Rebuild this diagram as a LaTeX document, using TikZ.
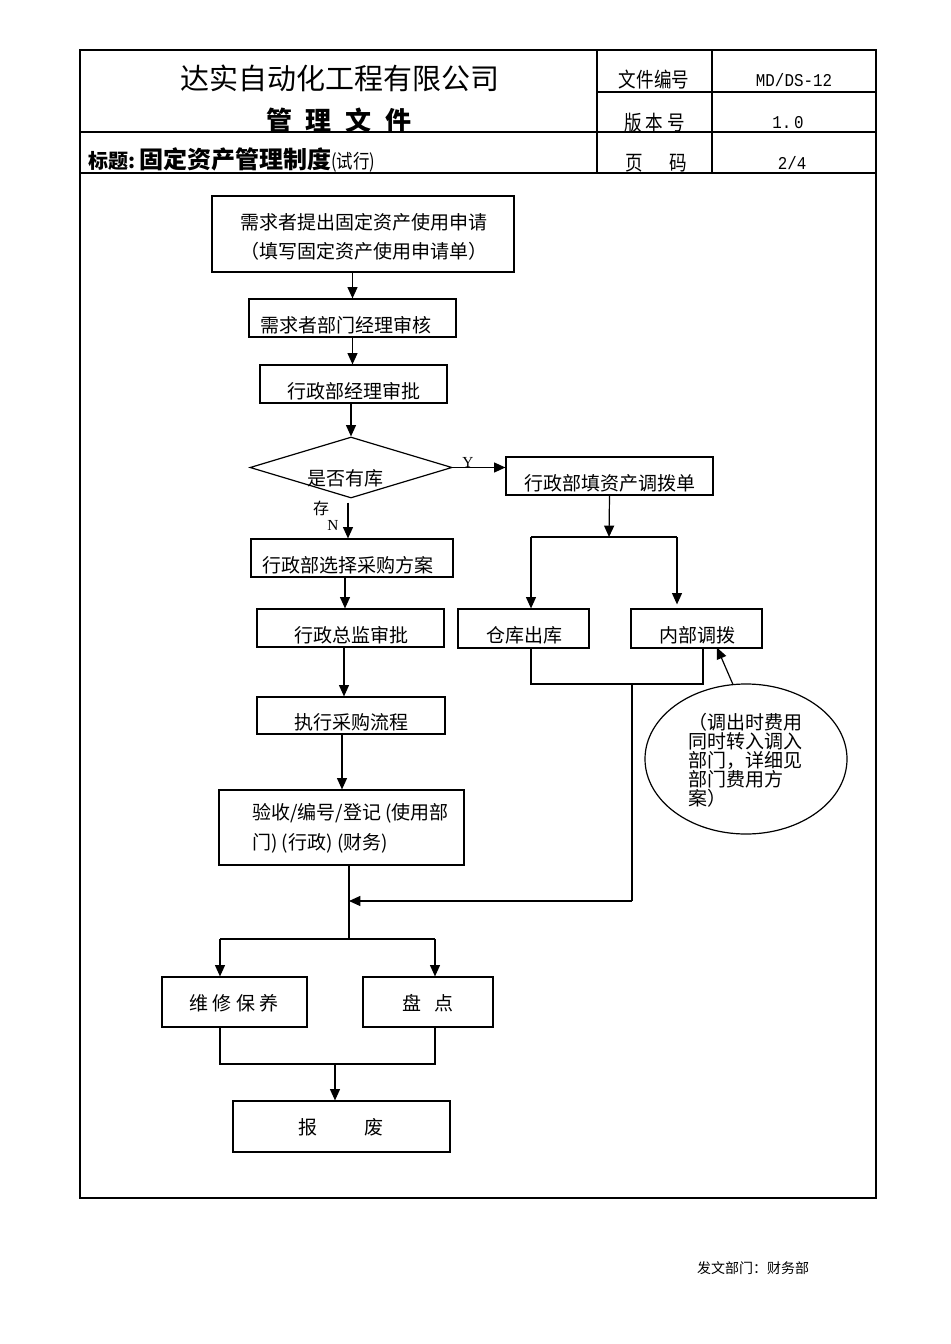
\documentclass[tikz,border=0pt]{standalone}
\usepackage{fontspec}
\setmainfont{Liberation Serif}
\setmonofont{Liberation Mono}
\newfontfamily\cjk{Noto Sans CJK SC}
\newfontfamily\cjkn{Noto Sans CJK SC}[FakeStretch=0.85]
\newfontfamily\hmono{Liberation Mono}[FakeStretch=0.88]
\usetikzlibrary{shapes.geometric,arrows.meta,calc}
\tikzset{
  ln/.style={line width=0.9pt},
  arr/.style={ln,-{Triangle[length=8.5pt,width=7.5pt]}},
  bx/.style 2 args={draw,ln,rectangle,inner sep=0pt,minimum width=#1*0.75pt,minimum height=#2*0.75pt},
  txt/.style={inner sep=0pt,font=\cjk\fontsize{14.25pt}{14.3pt}\selectfont},
  hdr/.style={inner sep=0pt,font=\cjkn\fontsize{15.5pt}{16pt}\selectfont},
  hval/.style={inner sep=0pt,font=\hmono\fontsize{13.5pt}{14pt}\selectfont},
}
\begin{document}
\begin{tikzpicture}[x=0.75pt,y=-0.75pt]
\useasboundingbox (0,0) rectangle (950,1344);
% ---------- frame and header ----------
\draw[ln] (80,50) rectangle (876,1198);
\draw[ln] (597,50) -- (597,173);
\draw[ln] (712,50) -- (712,173);
\draw[ln] (597,92) -- (876,92);
\draw[ln] (80,132) -- (876,132);
\draw[ln] (80,173) -- (876,173);
\node[inner sep=0pt,font=\cjk\fontsize{21.75pt}{22pt}\selectfont] (title) at (339.5,78) {达实自动化工程有限公司};
\node[inner sep=0pt,font=\cjk\bfseries\fontsize{19.5pt}{20pt}\selectfont] (sub) at (339,120) {管\hspace{10.5pt}理\hspace{10.5pt}文\hspace{10.5pt}件};
\node[inner sep=0pt,anchor=west] (head) at (88,160) {{\cjk\bfseries\fontsize{15pt}{15pt}\selectfont 标题:\hspace{3pt}}{\cjk\bfseries\fontsize{18pt}{18pt}\selectfont 固定资产管理制度}{\cjkn\fontsize{14.5pt}{14.5pt}\selectfont (试行)}};
\node[hdr] (h1) at (654,80) {文件编号};
\node[hdr] (h2) at (654.5,123) {版 本 号};
\node[hdr] (h3) at (656,163) {页\hspace{20pt}码};
\node[hval] (v1) at (794,80) {MD/DS-12};
\node[hval] (v2) at (788,123) {1.\hspace{2pt}0};
\node[hval] (v3) at (792,163) {2/4};
% ---------- boxes ----------
\node[bx={302}{76}] (b1) at (363,234) {};
\node[txt,align=center,font=\cjk\fontsize{14.25pt}{21.75pt}\selectfont] (t1) at (363.5,236.5) {需求者提出固定资产使用申请\\（填写固定资产使用申请单）};
\node[bx={207}{38}] (b2) at (352.5,318) {};
\node[txt] (t2) at (346,325) {需求者部门经理审核};
\node[bx={187}{38}] (b3) at (353.5,384) {};
\node[txt] (t3) at (354,391) {行政部经理审批};
\node[draw,ln,diamond,inner sep=0pt,aspect=3.3,minimum width=202*0.75pt,minimum height=61*0.75pt] (dia) at (351,467.5) {};
\node[txt] (td) at (345,478) {是否有库};
\node[inner sep=0pt,font=\cjk\fontsize{12pt}{12pt}\selectfont] (cun) at (321,508) {存};
\node[inner sep=0pt,font=\fontsize{11.5pt}{12pt}\selectfont] (lN) at (333,525) {N};
\node[inner sep=0pt,font=\fontsize{11.5pt}{12pt}\selectfont] (lY) at (468,462) {Y};
\node[bx={207}{38}] (b4) at (609.5,476) {};
\node[txt] (t4) at (610,483) {行政部填资产调拨单};
\node[bx={202}{38}] (b5) at (352,558) {};
\node[txt] (t5) at (348,565) {行政部选择采购方案};
\node[bx={187}{38}] (b6) at (350.5,628) {};
\node[txt] (t6) at (351.5,635) {行政总监审批};
\node[bx={188}{37}] (b7) at (351,715.5) {};
\node[txt] (t7) at (351,722) {执行采购流程};
\node[bx={245}{75}] (b8) at (341.5,827.5) {};
\node[txt,anchor=west,align=left,font=\cjk\fontsize{14.25pt}{22.5pt}\selectfont] (t8) at (252,828) {验收/编号/登记 (使用部\\门) (行政) (财务)};
\node[bx={131}{39}] (b12) at (523.5,628.5) {};
\node[txt] (t12) at (524,635) {仓库出库};
\node[bx={131}{39}] (b13) at (696.5,628.5) {};
\node[txt] (t13) at (697,635) {内部调拨};
\node[draw,ln,ellipse,inner sep=0pt,minimum width=202*0.75pt,minimum height=150*0.75pt] (el) at (746,759) {};
\node[txt,anchor=west,align=left] (tel) at (688,760) {（调出时费用\\同时转入调入\\部门，详细见\\部门费用方\\案）};
\node[bx={145}{50}] (b9) at (234.5,1002) {};
\node[txt] (t9) at (234,1003) {维 修 保 养};
\node[bx={130}{50}] (b10) at (428,1002) {};
\node[txt] (t10) at (427.5,1003) {盘\hspace{9.75pt}点};
\node[bx={217}{51}] (b11) at (341.5,1126.5) {};
\node[txt] (t11) at (341,1127) {报\hspace{36pt}废};
\node[inner sep=0pt,font=\cjk\fontsize{10.5pt}{11pt}\selectfont] (foot) at (753,1268) {发文部门：财务部};
% ---------- connectors ----------
\draw[arr] (b1.south -| b2.north) -- (b2.north);
\draw[arr] (b2.south) -- (b2.south |- b3.north);
\draw[arr] (b3.south -| dia.north) -- (dia.north);
\coordinate (nS) at ($(dia.south)+(-3,4)$);
\draw[arr] (nS) -- (nS |- b5.north);
\draw[arr] (dia.east) -- (dia.east -| b4.west);
\coordinate (j1) at (609,537);
\coordinate (jL) at (531,537);
\coordinate (jR) at (677,537);
\draw[arr] (b4.south) -- (j1);
\draw[ln] (jL) -- (jR);
\draw[arr] (jL) -- (jL |- b12.north);
\draw[arr] (jR) -- ($(jR |- b13.north)+(0,-4)$);
\coordinate (m1) at (531,684);
\coordinate (m2) at (703,684);
\coordinate (mM) at (632,684);
\draw[ln] (b12.south -| m1) -- (m1) -- (m2) -- (b13.south -| m2);
\draw[arr] (el.100) -- ($(b13.south)+(20.5,-1)$);
\draw[arr] ($(b5.south)+(-7,0)$) -- ($(b6.north)+(-5.5,0)$);
\draw[arr] ($(b6.south)+(-6.5,0)$) -- ($(b7.north)+(-7,0)$);
\draw[arr] ($(b7.south)+(-9,0)$) -- ($(b8.north)+(0.5,0)$);
\coordinate (jB) at (349,939);
\coordinate (jM) at (349,901);
\coordinate (r1) at (632,901);
\draw[ln] (b8.south -| jB) -- (jB);
\draw[ln] (mM) -- (r1);
\draw[arr] (r1) -- (jM);
\coordinate (jBL) at (220,939);
\coordinate (jBR) at (435,939);
\draw[ln] (jBL) -- (jBR);
\draw[arr] (jBL) -- (jBL |- b9.north);
\draw[arr] (jBR) -- (jBR |- b10.north);
\coordinate (kL) at (220,1064);
\coordinate (kR) at (435,1064);
\coordinate (kM) at (335,1064);
\draw[ln] (b9.south -| kL) -- (kL) -- (kR) -- (b10.south -| kR);
\draw[arr] (kM) -- (kM |- b11.north);
\end{tikzpicture}
\end{document}
